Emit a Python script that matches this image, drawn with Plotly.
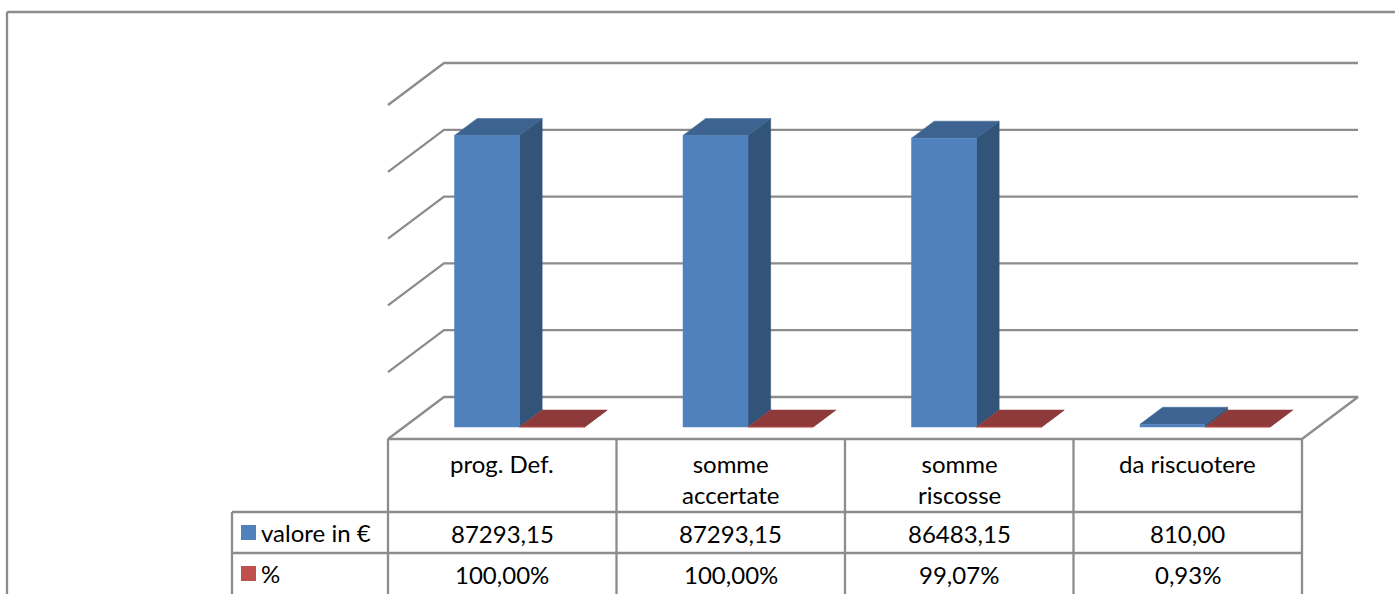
import plotly.graph_objects as go

categories = ["prog. Def.", "somme<br>accertate", "somme<br>riscosse", "da riscuotere"]
series_names = ["valore in €", "%"]
valore = [87293.15, 87293.15, 86483.15, 810.00]
percent = [1.0, 1.0, 0.9907, 0.0093]
valore_labels = ["87293,15", "87293,15", "86483,15", "810,00"]
percent_labels = ["100,00%", "100,00%", "99,07%", "0,93%"]
ticks = [0, 20000, 40000, 60000, 80000, 100000]

W, H = 1395, 594
CAT_PX = 228.5          # pixels per category
VAL_PX = 334 / 100000   # pixels per unit of value
X0_PX, Y0_PX = 388, 427 # pixel of x=0 and y=0
DEPTH_X, DEPTH_Y, FRONT_Y = 56, 42, 12
BAR_GAP = 50.5 / CAT_PX
BAR_W = 65 / CAT_PX
D0, D1 = 12 / 42, 29 / 42

GRID = "#8c8c8c"
BLUE, BLUE_TOP, BLUE_SIDE = "#4f81bd", "#3d6491", "#325479"
RED, RED_TOP, RED_SIDE = "#c0504d", "#8e3a3a", "#7a3230"
FONT = "Lato"
FS = 24


def proj(x, v, d):
    return x + d * DEPTH_X / CAT_PX, v + (d * DEPTH_Y - FRONT_Y) / VAL_PX


def poly(points, color):
    pts = [proj(*p) for p in points]
    xs = [p[0] for p in pts] + [pts[0][0]]
    ys = [p[1] for p in pts] + [pts[0][1]]
    return go.Scatter(x=xs, y=ys, mode="lines", fill="toself", fillcolor=color,
                      line=dict(color=color, width=0.5), hoverinfo="skip", showlegend=False)


fig = go.Figure()

# floor and grid
n = len(categories)
fig.add_trace(poly([(0, 0, 0), (n, 0, 0), (n, 0, 1), (0, 0, 1)], "#ffffff"))
for v in ticks:
    pts = [proj(0, v, 0), proj(0, v, 1), proj(n, v, 1)]
    if v == 0:
        pts.append(proj(n, v, 0))
    fig.add_trace(go.Scatter(x=[p[0] for p in pts], y=[p[1] for p in pts], mode="lines",
                             line=dict(color=GRID, width=2.3), hoverinfo="skip", showlegend=False))


def bar(x0, v, front, top, side):
    x1 = x0 + BAR_W
    out = []
    out.append(poly([(x1, 0, D0), (x1, 0, D1), (x1, v, D1), (x1, v, D0)], side))
    out.append(poly([(x0, v, D0), (x1, v, D0), (x1, v, D1), (x0, v, D1)], top))
    out.append(poly([(x0, 0, D0), (x1, 0, D0), (x1, v, D0), (x0, v, D0)], front))
    return out


for i in range(n):
    for t in bar(i + BAR_GAP, valore[i], BLUE, BLUE_TOP, BLUE_SIDE):
        fig.add_trace(t)
    for t in bar(i + BAR_GAP + BAR_W, percent[i], RED, RED_TOP, RED_SIDE):
        fig.add_trace(t)


def px(x):
    return x / W


def py(y):
    return 1 - y / H


def line(x0, y0, x1, y1, w=2.3):
    return dict(type="line", xref="paper", yref="paper", x0=px(x0), y0=py(y0), x1=px(x1), y1=py(y1),
                line=dict(color=GRID, width=w))


shapes = [line(7, 12, W, 12), line(7, 12, 7, H)]
for i in range(n + 1):
    xp = X0_PX + i * CAT_PX
    shapes.append(line(xp, 439, xp, H))
shapes += [line(388, 439, 1302, 439), line(232, 512, 232, H), line(232, 512, 1302, 512), line(232, 553, 1302, 553)]
for color, y0 in ((BLUE, 525), (RED, 566)):
    shapes.append(dict(type="rect", xref="paper", yref="paper", x0=px(241), x1=px(256), y0=py(y0), y1=py(y0 + 15),
                       fillcolor=color, line=dict(width=0)))

annotations = []


def text(s, x, xref, y, xanchor="center", yanchor="middle"):
    annotations.append(dict(text=s, x=x, xref=xref, y=py(y), yref="paper", xanchor=xanchor, yanchor=yanchor,
                            showarrow=False, align="center", font=dict(family=FONT, size=FS, color="#000000")))


for i in range(n):
    text(categories[i], i + 0.5, "x", 447, yanchor="top")
    text(valore_labels[i], i + 0.5, "x", 533)
    text(percent_labels[i], i + 0.5, "x", 574)
text(series_names[0], px(259), "paper", 532, xanchor="left")
text(series_names[1], px(259), "paper", 573, xanchor="left")

fig.update_layout(
    width=W, height=H, margin=dict(l=0, r=0, t=0, b=0),
    paper_bgcolor="white", plot_bgcolor="white", showlegend=False,
    xaxis=dict(range=[-X0_PX / CAT_PX, (W - X0_PX) / CAT_PX], visible=False, fixedrange=True),
    yaxis=dict(range=[-(H - Y0_PX) / VAL_PX, Y0_PX / VAL_PX], visible=False, fixedrange=True),
    shapes=shapes, annotations=annotations,
)
fig.write_html("out.html", config={"displayModeBar": False},
               post_script="document.body.style.margin='0';document.body.style.overflow='hidden';")
